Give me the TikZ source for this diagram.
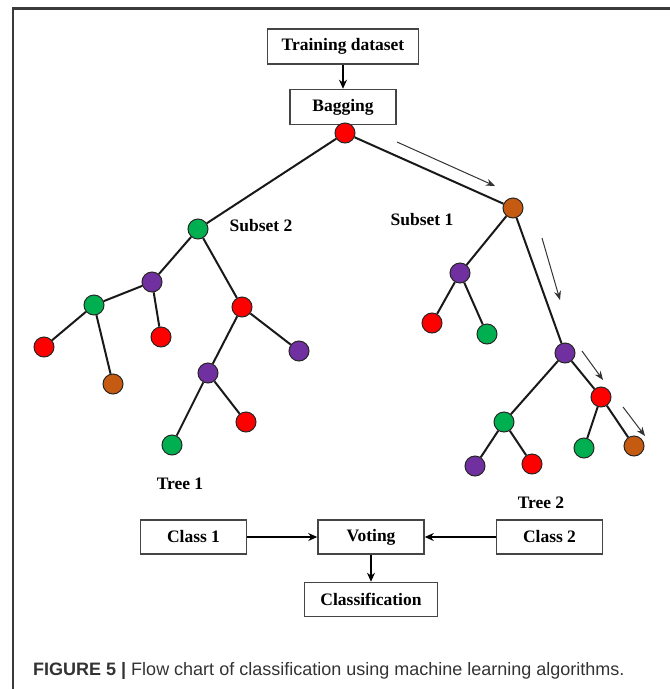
\documentclass[tikz,border=0pt]{standalone}
\usepackage{fontspec}
\setmainfont{Liberation Serif}
\newfontfamily\capfont{Liberation Sans}
\usetikzlibrary{positioning,arrows.meta}
\definecolor{nodered}{HTML}{FF0000}
\definecolor{nodegreen}{HTML}{00B050}
\definecolor{nodepurple}{HTML}{7030A0}
\definecolor{nodebrown}{HTML}{C55A11}
\definecolor{framegray}{HTML}{3A3A3A}
\definecolor{boxgray}{HTML}{454545}
\definecolor{capgray}{HTML}{333333}

\begin{document}
\begin{tikzpicture}[
  x=1pt, y=-1pt,
  node distance=24pt,
  box/.style={
    draw=boxgray, line width=1.5pt, inner sep=2pt,
    font=\fontsize{17.5}{20}\selectfont\bfseries,
    minimum width=106pt, minimum height=35pt
  },
  lbl/.style={font=\fontsize{17.5}{20}\selectfont\bfseries},
  dot/.style={circle, draw=black!85, line width=1pt, minimum size=20pt, inner sep=0pt},
  rdot/.style={dot, fill=nodered},
  gdot/.style={dot, fill=nodegreen},
  pdot/.style={dot, fill=nodepurple},
  bdot/.style={dot, fill=nodebrown},
  branch/.style={line width=2pt, draw=black!90},
  arr/.style={-{Stealth[length=9pt,width=8pt]}, line width=1.6pt},
  hint/.style={-{Stealth[length=9pt,width=7pt]}, line width=1pt, draw=black!80}
]
  \useasboundingbox (0,0) rectangle (670,689);
  \draw[framegray, line width=2.2pt] (13,689) -- (13,8.5) -- (670,8.5);

  % boxes
  \node[box, minimum width=151pt] (train) at (343,46.5) {Training dataset};
  \node[box, below=24pt of train] (bagging) {Bagging};
  \node[box, minimum height=34pt] (voting) at (371,537) {Voting};
  \node[box, minimum height=34pt, left=70pt of voting] (class1) {Class 1};
  \node[box, minimum height=34pt, right=71pt of voting] (class2) {Class 2};
  \node[box, minimum height=34pt, minimum width=133pt, below=27pt of voting] (classif) {Classification};

  % root
  \node[rdot] (root) at (345,133) {};

  % tree 1 (subset 2)
  \node[gdot] (lg1) at (198,229) {};
  \node[pdot] (lp1) at (152,282) {};
  \node[gdot] (lg2) at (94,305) {};
  \node[rdot] (lr1) at (44,347) {};
  \node[bdot] (lb1) at (113,384) {};
  \node[rdot] (lr2) at (161,337) {};
  \node[rdot] (lr3) at (242,307) {};
  \node[pdot] (lp2) at (299,351) {};
  \node[pdot] (lp3) at (208,373) {};
  \node[rdot] (lr4) at (246,422) {};
  \node[gdot] (lg3) at (172,445) {};

  % tree 2 (subset 1)
  \node[bdot] (rb1) at (513,208) {};
  \node[pdot] (rp1) at (460,273) {};
  \node[rdot] (rr1) at (432,323) {};
  \node[gdot] (rg1) at (487,334) {};
  \node[pdot] (rp2) at (565,353) {};
  \node[gdot] (rg2) at (504,422) {};
  \node[pdot] (rp3) at (475,466) {};
  \node[rdot] (rr3) at (532,464) {};
  \node[rdot] (rr2) at (601,397) {};
  \node[gdot] (rg3) at (584,448) {};
  \node[bdot] (rb2) at (634,446) {};

  \node[lbl] (sub2) at (261,226) {Subset 2};
  \node[lbl] (sub1) at (422,220) {Subset 1};
  \node[lbl] (tree1) at (180,484) {Tree 1};
  \node[lbl] (tree2) at (541,503) {Tree 2};

  \draw[branch] (root) -- (lg1);
  \draw[branch] (root) -- (rb1);
  \draw[branch] (lg1) -- (lp1);
  \draw[branch] (lg1) -- (lr3);
  \draw[branch] (lp1) -- (lg2);
  \draw[branch] (lp1) -- (lr2);
  \draw[branch] (lg2) -- (lr1);
  \draw[branch] (lg2) -- (lb1);
  \draw[branch] (lr3) -- (lp3);
  \draw[branch] (lr3) -- (lp2);
  \draw[branch] (lp3) -- (lg3);
  \draw[branch] (lp3) -- (lr4);
  \draw[branch] (rb1) -- (rp1);
  \draw[branch] (rb1) -- (rp2);
  \draw[branch] (rp1) -- (rr1);
  \draw[branch] (rp1) -- (rg1);
  \draw[branch] (rp2) -- (rg2);
  \draw[branch] (rp2) -- (rr2);
  \draw[branch] (rg2) -- (rp3);
  \draw[branch] (rg2) -- (rr3);
  \draw[branch] (rr2) -- (rg3);
  \draw[branch] (rr2) -- (rb2);

  % path hints along tree 2
  \coordinate (h1s) at (397,142);
  \coordinate (h1e) at (495,186);
  \coordinate (h2s) at (542,238);
  \coordinate (h2e) at (560,300);
  \coordinate (h3s) at (582,351);
  \coordinate (h3e) at (603,380);
  \coordinate (h4s) at (623,407);
  \coordinate (h4e) at (645,436);
  \draw[hint] (h1s) -- (h1e);
  \draw[hint] (h2s) -- (h2e);
  \draw[hint] (h3s) -- (h3e);
  \draw[hint] (h4s) -- (h4e);

  \draw[arr] (train) -- (bagging);
  \draw[arr] (class1) -- (voting);
  \draw[arr] (class2) -- (voting);
  \draw[arr] (voting) -- (classif);

  \node[anchor=base west, inner sep=0pt, text=capgray,
    font=\capfont\fontsize{18}{21}\selectfont] (caption) at (33,675)
    {\textbf{FIGURE 5 |} Flow chart of classification using machine learning algorithms.};
\end{tikzpicture}
\end{document}
